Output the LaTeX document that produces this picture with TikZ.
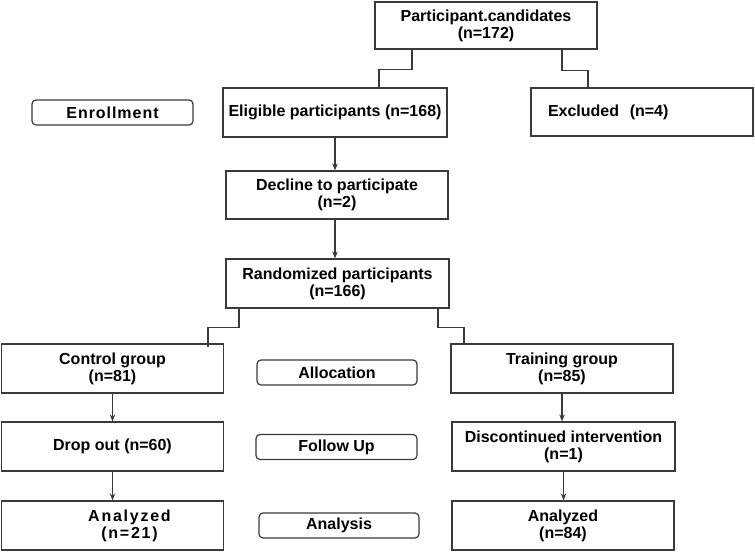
\documentclass[tikz,border=0pt]{standalone}
\usepackage{fontspec}
\setmainfont{Liberation Sans}
\usetikzlibrary{arrows.meta,positioning}
\definecolor{linegray}{HTML}{3A3A3A}
\tikzset{
  box/.style={draw=linegray, line width=1.2pt, rectangle, align=center, inner sep=2pt,
    font=\fontsize{16}{17}\selectfont\bfseries, text=black},
  phase/.style={draw=linegray, line width=1.2pt, rounded corners=4pt, align=center, inner sep=1pt,
    font=\fontsize{16}{17}\selectfont\bfseries, text=black},
  conn/.style={draw=linegray, line width=1.2pt},
  arr/.style={conn, -{Stealth[length=7pt,width=5.5pt]}}
}
\begin{document}
\begin{tikzpicture}[x=1pt,y=-1pt]
\useasboundingbox (0,0) rectangle (755,552);
% main boxes
\node[box, minimum width=222pt, minimum height=47pt] (top) at (486,25.5) {Participant.candidates\\(n=172)};
\node[box, minimum width=224pt, minimum height=49pt] (elig) at (335,112.5) {Eligible participants (n=168)};
\node[box, minimum width=222pt, minimum height=48pt, text width=188pt, inner xsep=17pt, align=left] (excl) at (642,112) {Excluded\ \ (n=4)};
\node[box, minimum width=222pt, minimum height=48pt] (decl) at (337,195) {Decline to participate\\(n=2)};
\node[box, minimum width=223pt, minimum height=49pt] (rand) at (337.5,283.5) {Randomized participants\\(n=166)};
\node[box, minimum width=222pt, minimum height=49pt] (ctrl) at (112.5,368.5) {Control group\\(n=81)};
\node[box, minimum width=222pt, minimum height=49pt] (train) at (562,368.5) {Training group\\(n=85)};
\node[box, minimum width=222pt, minimum height=49pt] (drop) at (112.5,446.5) {Drop out (n=60)};
\node[box, minimum width=223pt, minimum height=49pt] (disc) at (563.5,446.5) {Discontinued intervention\\(n=1)};
\node[box, minimum width=222pt, minimum height=49pt] (anaL) at (112.5,525.5) {\hspace*{34pt}\addfontfeature{LetterSpace=11}Analyzed\\\hspace*{34pt}\addfontfeature{LetterSpace=11}(n=21)};
\node[box, minimum width=222pt, minimum height=49pt] (anaR) at (563,525.5) {Analyzed\\(n=84)};
% phase labels
\node[phase, minimum width=161pt, minimum height=25pt] (enr) at (112.5,112.5) {\addfontfeature{LetterSpace=6}Enrollment};
\node[phase, minimum width=160pt, minimum height=25pt] (alloc) at (337,372.5) {Allocation};
\node[phase, minimum width=161pt, minimum height=25pt] (fol) at (336.5,447) {Follow Up};
\node[phase, minimum width=160pt, minimum height=25pt] (anl) at (339,525.5) {Analysis};
% connectors
\draw[conn] ([xshift=-74pt]top.south) -- ++(0,20) -| ([xshift=44pt]elig.north);
\draw[conn] ([xshift=76pt]top.south) -- ++(0,21) -| ([xshift=-54pt]excl.north);
\draw[arr] (elig.south) -- (elig.south |- decl.north);
\draw[arr] (decl.south -| elig.south) -- (elig.south |- rand.north);
\draw[conn] ([xshift=-98.5pt]rand.south) -- ++(0,19) -| ([xshift=95.5pt,yshift=-4pt]ctrl.north);
\draw[conn] ([xshift=100.5pt]rand.south) -- ++(0,19) -| ([xshift=-98pt]train.north);
\draw[arr] (ctrl.south) -- (drop.north);
\draw[arr] (train.south) -- (train.south |- disc.north);
\draw[arr] (drop.south) -- (anaL.north);
\draw[arr] (disc.south) -- (disc.south |- anaR.north);
\end{tikzpicture}
\end{document}
